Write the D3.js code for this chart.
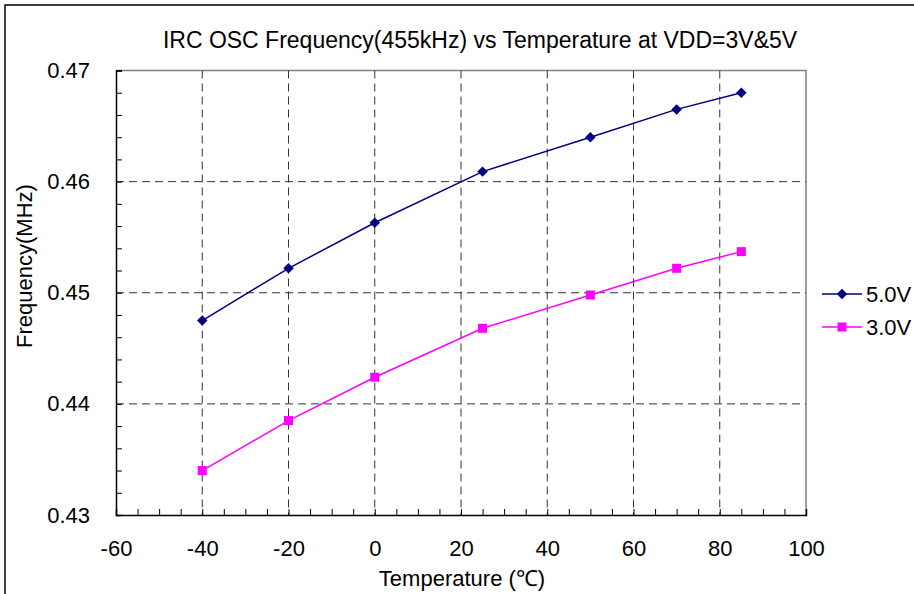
<!DOCTYPE html>
<html>
<head>
<meta charset="utf-8">
<script src="https://cdn.jsdelivr.net/npm/d3@7"></script>
<style>
  html, body { margin: 0; padding: 0; background: #fff; }
  svg { display: block; font-family: "Liberation Sans", Arial, sans-serif; }
</style>
</head>
<body>
<svg id="chart" width="914" height="594"></svg>
<script>
// ---- data ----
const temperatures = [-40, -20, 0, 25, 50, 70, 85];
const freq5V = [0.4475, 0.4522, 0.4563, 0.4609, 0.4640, 0.4665, 0.4680];
const freq3V = [0.4340, 0.4385, 0.4424, 0.4468, 0.4498, 0.4522, 0.4537];
const seriesNames = ["5.0V", "3.0V"];
const seriesColors = ["#000080", "#FF00FF"];
const xTicks = [-60, -40, -20, 0, 20, 40, 60, 80, 100];
const yTicks = [0.43, 0.44, 0.45, 0.46, 0.47];
const titleText = "IRC OSC Frequency(455kHz) vs Temperature at VDD=3V&5V";
const xLabel = "Temperature (\u2103)";
const yLabel = "Frequency(MHz)";

(function () {
const svg = d3.select("#chart");
const W = 914, H = 594;
const FS = 22;

// outer chart frame
svg.append("rect").attr("x", 5).attr("y", 5).attr("width", W + 10).attr("height", H + 10)
  .attr("fill", "#fff").attr("stroke", "#000").attr("stroke-width", 1.5);

const pL = 116, pR = 806, pT = 70.5, pB = 515;
const x = d3.scaleLinear().domain([-60, 100]).range([pL, pR]);
const y = d3.scaleLinear().domain([0.43, 0.47]).range([pB, pT]);

// plot border (top/right gray)
svg.append("path")
  .attr("d", `M${pL},${pT}H${pR}V${pB}`)
  .attr("fill", "none").attr("stroke", "#808080").attr("stroke-width", 1.5);

// grid lines
const grid = svg.append("g");
grid.selectAll("line.v").data(xTicks.filter(t => t > -60 && t < 100)).enter().append("line")
  .attr("x1", d => x(d)).attr("x2", d => x(d)).attr("y1", pT).attr("y2", pB)
  .attr("stroke", "#333").attr("stroke-width", 1).attr("stroke-dasharray", "8,5");
grid.selectAll("line.h").data(yTicks.filter(t => t > 0.43 && t < 0.47)).enter().append("line")
  .attr("y1", d => y(d)).attr("y2", d => y(d)).attr("x1", pL).attr("x2", pR)
  .attr("stroke", "#333").attr("stroke-width", 1).attr("stroke-dasharray", "8,5");

// axes
const xMinor = d3.range(-60, 100.1, 5);
const yMinor = d3.range(0, 21).map(i => 0.43 + i * 0.002);

const xAxis = d3.axisBottom(x).tickValues(xMinor).tickSize(-6).tickFormat("");
const gx = svg.append("g").attr("transform", `translate(0,${pB})`).call(xAxis);
const xAxisLabels = d3.axisBottom(x).tickValues(xTicks).tickSize(0).tickPadding(25)
  .tickFormat(d => String(d));
const gxl = svg.append("g").attr("transform", `translate(0,${pB})`).call(xAxisLabels);

const yAxis = d3.axisLeft(y).tickValues(yMinor).tickSize(-6).tickFormat("");
const gy = svg.append("g").attr("transform", `translate(${pL},0)`).call(yAxis);
const yAxisLabels = d3.axisLeft(y).tickValues(yTicks).tickSize(0).tickPadding(26).tickFormat(d => d.toFixed(2));
const gyl = svg.append("g").attr("transform", `translate(${pL},0)`).call(yAxisLabels);

[gx, gy].forEach(g => {
  g.select(".domain").attr("stroke", "#000").attr("stroke-width", 1.5);
  g.selectAll(".tick line").attr("stroke", "#000").attr("stroke-width", 1);
});
[gxl, gyl].forEach(g => {
  g.select(".domain").remove();
  g.selectAll("text").attr("fill", "#000").attr("font-size", FS)
    .attr("font-family", "'Liberation Sans', Arial, sans-serif");
});

// lines
const series = [freq5V, freq3V];
const line = d3.line().x((d, i) => x(temperatures[i])).y(d => y(d));
series.forEach((vals, si) => {
  svg.append("path").datum(vals).attr("d", line)
    .attr("fill", "none").attr("stroke", seriesColors[si]).attr("stroke-width", 1.5);
});

function drawMarker(g, si, cx, cy) {
  if (si === 0) {
    g.append("path").attr("d", d3.symbol().type(d3.symbolSquare).size(55))
      .attr("transform", `translate(${cx},${cy}) rotate(45)`)
      .attr("fill", seriesColors[si]);
  } else {
    g.append("rect").attr("x", cx - 4.5).attr("y", cy - 4.5).attr("width", 9).attr("height", 9)
      .attr("fill", seriesColors[si]);
  }
}
series.forEach((vals, si) => {
  const g = svg.append("g");
  vals.forEach((v, i) => drawMarker(g, si, x(temperatures[i]), y(v)));
});

// legend
const legendY = [294, 327];
seriesNames.forEach((name, si) => {
  const ly = legendY[si];
  svg.append("line").attr("x1", 822).attr("x2", 862).attr("y1", ly).attr("y2", ly)
    .attr("stroke", seriesColors[si]).attr("stroke-width", 1.5);
  drawMarker(svg, si, 842, ly);
  svg.append("text").attr("x", 866).attr("y", ly).attr("dy", "0.36em")
    .attr("font-size", FS).attr("fill", "#000").text(name);
});

// title
svg.append("text").attr("x", 480).attr("y", 48).attr("text-anchor", "middle")
  .attr("font-size", 23).attr("fill", "#000").text(titleText);

// axis titles
svg.append("text").attr("x", 462).attr("y", 586).attr("text-anchor", "middle")
  .attr("font-size", FS).attr("fill", "#000").text(xLabel);
svg.append("text").attr("transform", "translate(32,266) rotate(-90)").attr("text-anchor", "middle")
  .attr("font-size", FS).attr("fill", "#000").text(yLabel);
})();
</script>
</body>
</html>
